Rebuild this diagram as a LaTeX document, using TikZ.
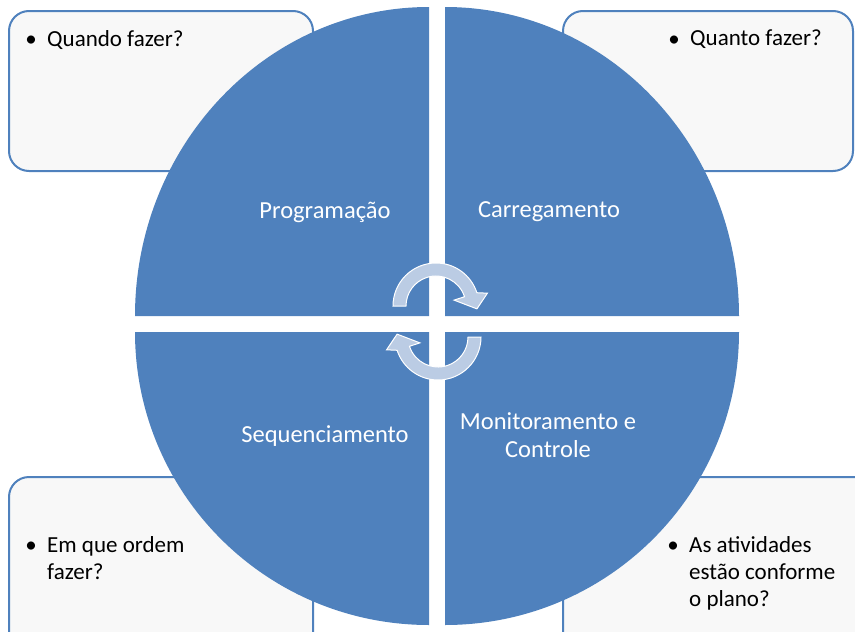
\documentclass[tikz,border=0pt]{standalone}
\usepackage{fontspec}
\setmainfont{Carlito}
\usetikzlibrary{calc}

\begin{document}
\begin{tikzpicture}[x=1pt, y=-1pt]

\def \cx {437}
\def \cy {324}
\def \gap {8}
\def \rx {294}

\definecolor{c_quadrant}{RGB}{79,129,189}
\definecolor{c_box}{RGB}{248,248,248}
\definecolor{c_cycle}{RGB}{187,204,228}

\tikzset{
  questionbox/.style = {draw = c_quadrant, line width = 2pt, fill = c_box, rounded corners = 20pt},
  quadlabel/.style = {text = white, font = \fontsize{24.5}{28}\selectfont, align = center},
  bulletmark/.style = {anchor = base, inner sep = 0pt, font = \fontsize{23}{27}\selectfont},
  bullettext/.style = {anchor = north west, inner sep = 0pt, align = left, font = \fontsize{23}{27}\selectfont},
  cyclearrow/.style = {fill = c_cycle, draw = white, line width = 1pt}
}

\useasboundingbox (0,0) rectangle (855,632);
\clip (0,0) rectangle (855,632);

% Question boxes (behind the circle)
\draw [questionbox] (9,11) rectangle (313,171);
\draw [questionbox] (563,11) rectangle (853,171);
\draw [questionbox] (9,477) rectangle (313,660);
\draw [questionbox] (563,477) rectangle (880,660);

% Quadrants of the circle
\fill [c_quadrant] (\cx - \gap, \cy - \gap) -- ++(-\rx, 0) arc [start angle = 180, end angle = 270, x radius = \rx, y radius = 309] -- cycle;
\fill [c_quadrant] (\cx + \gap, \cy - \gap) -- ++(0, -309) arc [start angle = 270, end angle = 360, x radius = \rx, y radius = 309] -- cycle;
\fill [c_quadrant] (\cx - \gap, \cy + \gap) -- ++(-\rx, 0) arc [start angle = 180, end angle = 90, x radius = \rx, y radius = 293] -- cycle;
\fill [c_quadrant] (\cx + \gap, \cy + \gap) -- ++(\rx, 0) arc [start angle = 0, end angle = 90, x radius = \rx, y radius = 293] -- cycle;

% Quadrant labels
\node (prog) at (325,212) [quadlabel] {Programação};
\node (carr) at (549,212) [quadlabel] {Carregamento};
\node (seq) at (325,436) [quadlabel] {Sequenciamento};
\node (mon) at (548,435) [quadlabel] {Monitoramento e\\Controle};

% Cycle arrows
\foreach \ang in {0, 180} {
  \begin{scope}[rotate around = {\ang:(437,321.5)}, shift = {(436,306)}]
    \draw [cyclearrow] (180:43) arc [start angle = 180, end angle = 342, radius = 43]
      -- (346:53) -- (4:41) -- (342:19) -- (342:30)
      arc [start angle = 342, end angle = 180, radius = 30] -- cycle;
  \end{scope}
}

% Questions (text tops sit about 16pt above the first baseline)
\node (dot1) at (31,46) [bulletmark] {\textbullet};
\node (q1) at (47,30) [bullettext] {Quando fazer?};
\node (dot2) at (674,46) [bulletmark] {\textbullet};
\node (q2) at (690,30) [bullettext] {Quanto fazer?};
\node (dot3) at (31,552) [bulletmark] {\textbullet};
\node (q3) at (47,536) [bullettext] {Em que ordem\\fazer?};
\node (dot4) at (673,552) [bulletmark] {\textbullet};
\node (q4) at (689,536) [bullettext] {As atividades\\estão conforme\\o plano?};

\end{tikzpicture}
\end{document}
